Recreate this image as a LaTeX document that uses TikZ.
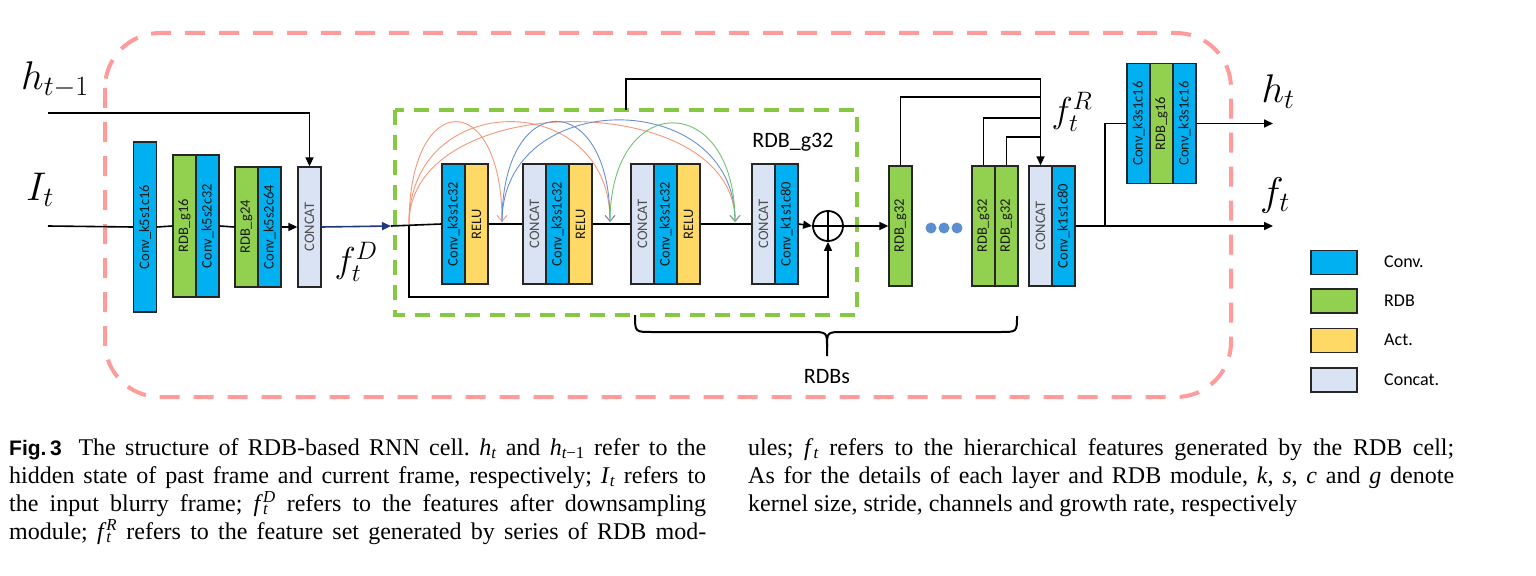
\RequirePackage{fix-cm}
\documentclass[tikz,border=0pt]{standalone}
\usepackage{fontspec}
\usepackage{graphicx}
\setmainfont{Liberation Serif}
\newfontfamily\carl{Carlito}
\newfontfamily\figsans{Liberation Sans}
\usetikzlibrary{arrows.meta}
\definecolor{convc}{HTML}{00B0F0}
\definecolor{rdbc}{HTML}{92D050}
\definecolor{actc}{HTML}{FFD966}
\definecolor{catc}{HTML}{DAE3F3}
\definecolor{pinkc}{HTML}{FF9B9B}
\definecolor{gboxc}{HTML}{86C940}
\definecolor{navyc}{HTML}{1F3A78}
\definecolor{orac}{HTML}{F4977A}
\definecolor{bluac}{HTML}{6A8FD0}
\definecolor{grnac}{HTML}{72C272}
\definecolor{dotc}{HTML}{5B8FD0}
\newcommand\ih[2]{\textit{#1}\textsubscript{\itshape #2}}
\newcommand\capsetup{\fontsize{24bp}{28bp}\selectfont\frenchspacing\spaceskip=0.25em plus 0.4em minus 0.12em}
\begin{document}
\begin{tikzpicture}[x=1bp,y=-1bp,
  blk/.style={draw=black!85,line width=1.3bp,inner sep=0pt,minimum width=23bp,minimum height=120bp,font=\carl\fontsize{14.5bp}{16bp}\selectfont,text=black!90},
  conv/.style={blk,fill=convc},
  rdb/.style={blk,fill=rdbc},
  act/.style={blk,fill=actc},
  catb/.style={blk,fill=catc,text=black!70},
  wire/.style={line width=1.6bp,draw=black},
  arr/.style={wire,-{Triangle[length=9bp,width=8bp]}},
  skiparc/.style={line width=0.9bp,-{Straight Barb[length=6bp,width=10bp]}},
  mlab/.style={inner sep=0pt,font=\fontsize{40bp}{42bp}\selectfont},
  rlab/.style={inner sep=0pt,font=\carl\fontsize{22bp}{24bp}\selectfont},
  legt/.style={inner sep=0pt,anchor=west,font=\carl\fontsize{18bp}{20bp}\selectfont},
  legb/.style={draw=black!85,line width=1.3bp,minimum width=46bp,minimum height=24bp,inner sep=0pt},
  dotn/.style={circle,fill=dotc,minimum size=11bp,inner sep=0pt},
  captxt/.style={anchor=base west,inner sep=0pt,font=\capsetup}
]
\useasboundingbox (0,0) rectangle (1536,576);
% outer dashed frame and RDB frame
\draw[pinkc,line width=4bp,dash pattern=on 20bp off 14bp,rounded corners=55bp] (105,33) rectangle (1231,397);
\draw[gboxc,line width=3.5bp,dash pattern=on 15bp off 10bp] (395,110) rectangle (857,315);

% downsampling module
\node[conv,minimum height=170bp] (c1) at (145,227) {\rotatebox{90}{Conv\_k5s1c16}};
\node[rdb,minimum height=142bp] (r16) at (184.5,226) {\rotatebox{90}{RDB\_g16}};
\node[conv,minimum height=142bp] (c2) at (207.5,226) {\rotatebox{90}{Conv\_k5s2c32}};
\node[rdb] (r24) at (246.5,227) {\rotatebox{90}{RDB\_g24}};
\node[conv] (c3) at (269.5,227) {\rotatebox{90}{Conv\_k5s2c64}};
\node[catb] (cat0) at (309.5,227) {\rotatebox{90}{CONCAT}};

% RDB internals
\node[conv] (b1c) at (453.5,224) {\rotatebox{90}{Conv\_k3s1c32}};
\node[act] (b1r) at (476.5,224) {\rotatebox{90}{RELU}};
\node[catb] (b2cat) at (534.5,224) {\rotatebox{90}{CONCAT}};
\node[conv] (b2c) at (557.5,224) {\rotatebox{90}{Conv\_k3s1c32}};
\node[act] (b2r) at (580.5,224) {\rotatebox{90}{RELU}};
\node[catb] (b3cat) at (642.5,224) {\rotatebox{90}{CONCAT}};
\node[conv] (b3c) at (665.5,224) {\rotatebox{90}{Conv\_k3s1c32}};
\node[act] (b3r) at (688.5,224) {\rotatebox{90}{RELU}};
\node[catb] (b4cat) at (763.5,224) {\rotatebox{90}{CONCAT}};
\node[conv] (b4c) at (786.5,224) {\rotatebox{90}{Conv\_k1s1c80}};
\node[draw,circle,line width=1.8bp,minimum size=30bp,inner sep=0pt] (plus) at (828,226) {};
\draw[line width=1.8bp] (plus.north) -- (plus.south) (plus.west) -- (plus.east);

% RDB chain
\node[rdb] (R1) at (900.5,226) {\rotatebox{90}{RDB\_g32}};
\node[dotn] (d1) at (931,228) {};
\node[dotn] (d2) at (944,228) {};
\node[dotn] (d3) at (957,228) {};
\node[rdb] (R2) at (983.5,226) {\rotatebox{90}{RDB\_g32}};
\node[rdb] (R3) at (1006.5,226) {\rotatebox{90}{RDB\_g32}};
\node[catb] (cat5) at (1040.5,226) {\rotatebox{90}{CONCAT}};
\node[conv] (c5) at (1063.5,226) {\rotatebox{90}{Conv\_k1s1c80}};

% hidden state head
\node[conv] (tc1) at (1138.5,123.5) {\rotatebox{90}{Conv\_k3s1c16}};
\node[rdb] (tr) at (1161.5,123.5) {\rotatebox{90}{RDB\_g16}};
\node[conv] (tc2) at (1184.5,123.5) {\rotatebox{90}{Conv\_k3s1c16}};

% coordinates
\coordinate (hin) at (48,113);
\coordinate (iin) at (48,226);
\coordinate (gin) at (391,226);
\coordinate (br) at (409,226);
\coordinate (lowc) at (409,297);
\coordinate (gtop) at (626,110);
\coordinate (topc) at (626,79);
\coordinate (j1) at (1040,97);
\coordinate (j2) at (1040,118);
\coordinate (j3) at (1040,137);
\coordinate (bro) at (1105,226);
\coordinate (fout) at (1273,226);
\coordinate (hout) at (1273,123.5);
\coordinate (a0) at (409,224);
\coordinate (a1) at (502,222);
\coordinate (a2) at (610,222);
\coordinate (a3) at (735,222);

% connectors
\draw[arr] (hin) -| (cat0.north);
\draw[wire] (iin) -- (c1.west);
\draw[wire] (c1.east) -- (r16.west);
\draw[wire] (c2.east) -- (r24.west);
\draw[arr] (c3.east) -- (cat0.west);
\draw[line width=1.6bp,navyc,-{Triangle[length=9bp,width=8bp]}] (cat0.east) -- (gin);
\draw[wire] (gin) -- (b1c.west);
\draw[wire] (b1r.east) -- (b2cat.west);
\draw[wire] (b2r.east) -- (b3cat.west);
\draw[wire] (b3r.east) -- (b4cat.west);
\draw[arr] (b4c.east) -- (plus.west);
\draw[arr] (br) -- (lowc) -| (plus.south);
\draw[arr] (plus.east) -- (R1.west);
\draw[arr] (gtop) -- (topc) -| (cat5.north);
\draw[wire] (R1.north) |- (j1);
\draw[wire] (R2.north) |- (j2);
\draw[wire] (R3.north) |- (j3);
\draw[arr] (c5.east) -- (fout);
\draw[wire] (bro) |- (tc1.west);
\draw[arr] (tc2.east) -- (hout);

% dense skip arcs
\draw[skiparc,orac] (a0) .. controls (409,88) and (502,88) .. (a1);
\draw[skiparc,orac] (a0) .. controls (409,88) and (610,88) .. (a2);
\draw[skiparc,orac] (a0) .. controls (409,88) and (735,88) .. (a3);
\draw[skiparc,bluac] (a1) .. controls (502,88) and (610,88) .. (a2);
\draw[skiparc,bluac] (a1) .. controls (502,86) and (735,86) .. (a3);
\draw[skiparc,grnac] (a2) .. controls (610,90) and (735,90) .. (a3);

% brace
\draw[line width=2bp] (635,315) .. controls (635,332) .. (652,332) -- (810,332) .. controls (827,332) .. (827,347) -- (827,356);
\draw[line width=2bp] (1017,316) .. controls (1017,332) .. (1000,332) -- (844,332) .. controls (827,332) .. (827,347);

% labels
\node[mlab] (lhm) at (55,80) {$h_{t-1}$};
\node[mlab] (lit) at (40,190) {$I_t$};
\node[mlab,font=\fontsize{36bp}{38bp}\selectfont] (lfd) at (356,262) {$f_t^D$};
\node[mlab,font=\fontsize{36bp}{38bp}\selectfont] (lfr) at (1072,112) {$f_t^R$};
\node[mlab] (lht) at (1278,92) {$h_t$};
\node[mlab] (lft) at (1275,196) {$f_t$};
\node[rlab] (lrdb) at (793,142) {RDB\_g32};
\node[rlab] (lrdbs) at (827,377) {RDBs};

% legend
\node[legb,fill=convc] (lg1) at (1334,262.5) {};
\node[legb,fill=rdbc] (lg2) at (1334,301) {};
\node[legb,fill=actc] (lg3) at (1334,340.5) {};
\node[legb,fill=catc] (lg4) at (1334,380) {};
\node[legt] (lt1) at (1384,262) {Conv.};
\node[legt] (lt2) at (1384,301) {RDB};
\node[legt] (lt3) at (1384,340) {Act.};
\node[legt] (lt4) at (1384,380) {Concat.};

% caption
\node[captxt] (cl1) at (9,455) {\hbox to 697bp{{\figsans\bfseries\fontsize{21bp}{24bp}\selectfont Fig.\,3}\hskip 0.7em The structure of RDB-based RNN cell. \ih{h}{t} and \ih{h}{t\upshape −1} refer to the}};
\node[captxt] (cl2) at (9,483) {\hbox to 697bp{hidden state of past frame and current frame, respectively; \ih{I}{t} refers to}};
\node[captxt] (cl3) at (9,511) {\hbox to 697bp{the input blurry frame; \textit{f}\rlap{\textsubscript{\itshape t}}\textsuperscript{\itshape D} refers to the features after downsampling}};
\node[captxt] (cl4) at (9,539) {\hbox to 697bp{module; \textit{f}\rlap{\textsubscript{\itshape t}}\textsuperscript{\itshape R} refers to the feature set generated by series of RDB mod-}};
\node[captxt] (cr1) at (748,455) {\hbox to 706bp{ules; \ih{f}{t} refers to the hierarchical features generated by the RDB cell;}};
\node[captxt] (cr2) at (748,483) {\hbox to 706bp{As for the details of each layer and RDB module, \textit{k}, \textit{s}, \textit{c} and \textit{g} denote}};
\node[captxt] (cr3) at (748,511) {kernel size, stride, channels and growth rate, respectively};
\end{tikzpicture}
\end{document}
